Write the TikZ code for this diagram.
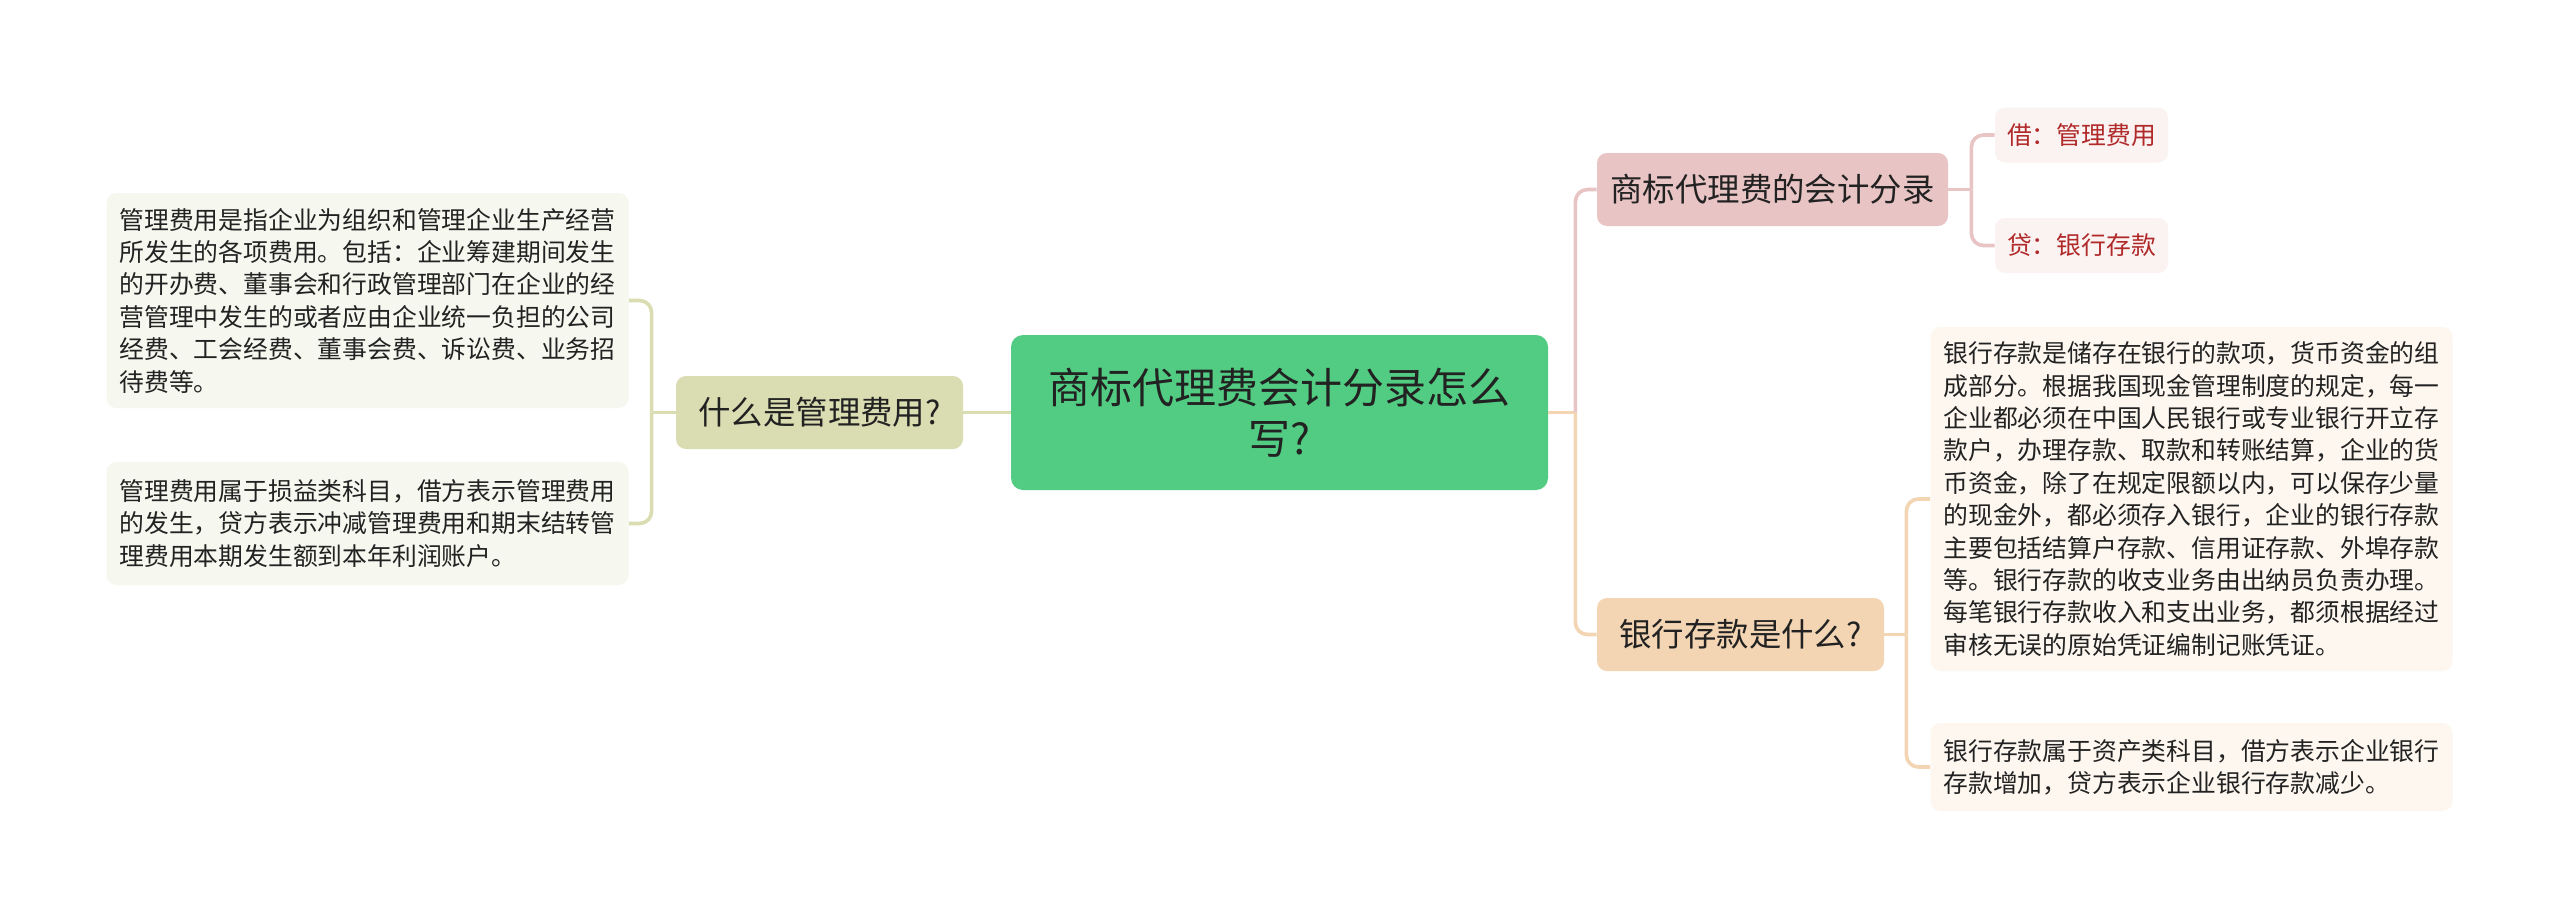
\documentclass[tikz,border=0pt]{standalone}
\usepackage{fontspec}
\setmainfont{Noto Sans CJK SC}
\usetikzlibrary{positioning}

\definecolor{rootgreen}{HTML}{52CC83}
\definecolor{olivebox}{HTML}{DADCB1}
\definecolor{olivenote}{HTML}{F6F7EF}
\definecolor{rosebox}{HTML}{E8C4C4}
\definecolor{roseleaf}{HTML}{FBF2F2}
\definecolor{rosetext}{HTML}{B02A2A}
\definecolor{sandbox}{HTML}{F3D5B4}
\definecolor{sandnote}{HTML}{FDF7F0}
\definecolor{inkdark}{HTML}{222222}

\begin{document}
\begin{tikzpicture}[
    x=0.5pt, y=-0.5pt,
    root/.style={rectangle, rounded corners=6pt, fill=rootgreen, align=center, text=inkdark, font=\fontsize{21}{25.5}\selectfont, minimum width=268.5pt, minimum height=77.5pt},
    branch/.style={rectangle, rounded corners=5pt, inner sep=0pt, text=inkdark, font=\fontsize{16.2}{20}\selectfont, minimum height=36.5pt},
    leaf/.style={rectangle, rounded corners=5pt, inner sep=0pt, fill=roseleaf, text=rosetext, font=\fontsize{12.4}{15}\selectfont, minimum width=86.5pt, minimum height=27.5pt},
    note/.style={rectangle, rounded corners=5pt, inner sep=0pt, text=inkdark, align=left, text width=248pt, minimum width=261pt, font=\fontsize{12.4}{16.2}\selectfont},
    link/.style={line width=1.8pt, rounded corners=6pt}
]

\useasboundingbox (0,0) rectangle (2560,921);
\fill[white] (0,0) rectangle (2560,921);

\node[root] (root) at (1279.5,412.5) {商标代理费会计分录怎么\\写?};

% left branch
\node[branch, fill=olivebox, minimum width=143.5pt] (mgmt) at (819.5,412.5) {什么是管理费用?};
\node[note, fill=olivenote, minimum height=107.5pt] (mgmtdef) at (367.5,300.5) {管理费用是指企业为组织和管理企业生产经营\\所发生的各项费用。包括：企业筹建期间发生\\的开办费、董事会和行政管理部门在企业的经\\营管理中发生的或者应由企业统一负担的公司\\经费、工会经费、董事会费、诉讼费、业务招\\待费等。};
\node[note, fill=olivenote, minimum height=61.5pt] (mgmtacct) at (367.5,523.5) {管理费用属于损益类科目，借方表示管理费用\\的发生，贷方表示冲减管理费用和期末结转管\\理费用本期发生额到本年利润账户。};

% right branches
\node[branch, fill=rosebox, minimum width=175.5pt] (entry) at (1772.5,189.5) {商标代理费的会计分录};
\node[leaf] (debit) at (2081.5,135) {借：管理费用};
\node[leaf] (credit) at (2081.5,245.5) {贷：银行存款};

\node[branch, fill=sandbox, minimum width=143.5pt] (bank) at (1740.5,634.5) {银行存款是什么?};
\node[note, fill=sandnote, minimum height=172pt] (bankdef) at (2191.5,499) {银行存款是储存在银行的款项，货币资金的组\\成部分。根据我国现金管理制度的规定，每一\\企业都必须在中国人民银行或专业银行开立存\\款户，办理存款、取款和转账结算，企业的货\\币资金，除了在规定限额以内，可以保存少量\\的现金外，都必须存入银行，企业的银行存款\\主要包括结算户存款、信用证存款、外埠存款\\等。银行存款的收支业务由出纳员负责办理。\\每笔银行存款收入和支出业务，都须根据经过\\审核无误的原始凭证编制记账凭证。};
\node[note, fill=sandnote, minimum height=44pt] (bankacct) at (2191.5,767) {银行存款属于资产类科目，借方表示企业银行\\存款增加，贷方表示企业银行存款减少。};

% forks
\coordinate[left=12pt of mgmt.west] (mgmtfork);
\coordinate[right=13.5pt of root.east] (rootfork);
\coordinate[right=11.5pt of entry.east] (entryfork);
\coordinate[right=11pt of bank.east] (bankfork);

\draw[link, olivebox] (root.west) -- (mgmt.east);
\draw[link, olivebox] (mgmt.west) -- (mgmtfork);
\draw[link, olivebox] (mgmtfork) |- (mgmtdef.east);
\draw[link, olivebox] (mgmtfork) |- (mgmtacct.east);

\draw[link, sandbox] (root.east) -- (rootfork);
\draw[link, rosebox] (rootfork) |- (entry.west);
\draw[link, sandbox] (rootfork) |- (bank.west);

\draw[link, rosebox] (entry.east) -- (entryfork);
\draw[link, rosebox] (entryfork) |- (debit.west);
\draw[link, rosebox] (entryfork) |- (credit.west);

\draw[link, sandbox] (bank.east) -- (bankfork);
\draw[link, sandbox] (bankfork) |- (bankdef.west);
\draw[link, sandbox] (bankfork) |- (bankacct.west);

\end{tikzpicture}
\end{document}
